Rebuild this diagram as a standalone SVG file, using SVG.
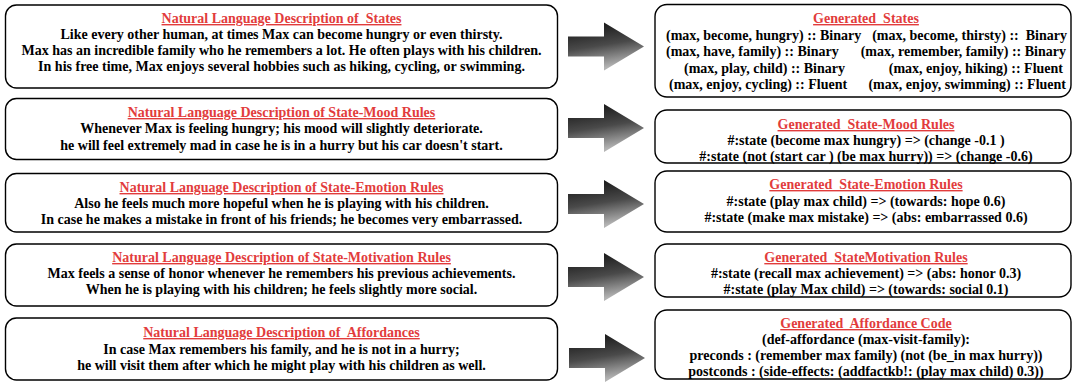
<svg xmlns="http://www.w3.org/2000/svg" width="1074" height="383" viewBox="0 0 1074 383">
<defs>
<style>
.box{fill:#fff;stroke:#000;stroke-width:1.4}
.t{font-family:"Liberation Serif","Times New Roman",serif;font-weight:bold;font-size:14px;fill:#000;text-anchor:middle}
.h{fill:#e23c3c;text-decoration:underline}
.s{text-anchor:start}
.e{text-anchor:end}
.arrow{fill:url(#ag)}
</style>
<linearGradient id="ag" x1="0" y1="0" x2="0.25" y2="1">
<stop offset="0" stop-color="#0e0e0e"/>
<stop offset="0.55" stop-color="#4a4a4a"/>
<stop offset="1" stop-color="#b4b4b4"/>
</linearGradient>
<path id="blk" class="arrow" d="M0,-10 H36 V-24 L76,0 L36,24 V10 H0 Z"/>
</defs>
<rect width="1074" height="383" fill="#fff"/>

<g id="connectors">
<use href="#blk" x="568" y="46.5"/>
<use href="#blk" x="568" y="128"/>
<use href="#blk" x="568" y="204"/>
<use href="#blk" x="568" y="277"/>
<use href="#blk" x="569" y="358"/>
</g>

<g id="nl-states">
<rect class="box" x="5.5" y="5" width="552" height="83" rx="11"/>
<text class="t h" x="281.5" y="23" xml:space="preserve">Natural Language Description of  States</text>
<text class="t" x="281.5" y="39">Like every other human, at times Max can become hungry or even thirsty.</text>
<text class="t" x="281.5" y="55">Max has an incredible family who he remembers a lot. He often plays with his children.</text>
<text class="t" x="281.5" y="71">In his free time, Max enjoys several hobbies such as hiking, cycling, or swimming.</text>
</g>

<g id="nl-mood">
<rect class="box" x="5.5" y="98.5" width="552" height="61" rx="11"/>
<text class="t h" x="281.5" y="117">Natural Language Description of State-Mood Rules</text>
<text class="t" x="281.5" y="133">Whenever Max is feeling hungry; his mood will slightly deteriorate.</text>
<text class="t" x="281.5" y="150">he will feel extremely mad in case he is in a hurry but his car doesn't start.</text>
</g>

<g id="nl-emotion">
<rect class="box" x="5.5" y="173.5" width="552" height="58.5" rx="11"/>
<text class="t h" x="281.5" y="192">Natural Language Description of State-Emotion Rules</text>
<text class="t" x="281.5" y="208">Also he feels much more hopeful when he is playing with his children.</text>
<text class="t" x="281.5" y="224">In case he makes a mistake in front of his friends; he becomes very embarrassed.</text>
</g>

<g id="nl-motivation">
<rect class="box" x="5.5" y="244" width="552" height="62" rx="11"/>
<text class="t h" x="281.5" y="262">Natural Language Description of State-Motivation Rules</text>
<text class="t" x="281.5" y="278">Max feels a sense of honor whenever he remembers his previous achievements.</text>
<text class="t" x="281.5" y="294">When he is playing with his children; he feels slightly more social.</text>
</g>

<g id="nl-affordances">
<rect class="box" x="5.5" y="318" width="552" height="62" rx="11"/>
<text class="t h" x="281.5" y="337" xml:space="preserve">Natural Language Description of  Affordances</text>
<text class="t" x="281.5" y="354">In case Max remembers his family, and he is not in a hurry;</text>
<text class="t" x="281.5" y="370">he will visit them after which he might play with his children as well.</text>
</g>

<g id="gen-states">
<rect class="box" x="655" y="4.5" width="416" height="92.5" rx="12"/>
<text class="t h" x="866" y="23" xml:space="preserve">Generated  States</text>
<text class="t s" x="666" y="39.5">(max, become, hungry) :: Binary</text>
<text class="t e" x="1067" y="39.5" xml:space="preserve">(max, become, thirsty) ::  Binary</text>
<text class="t s" x="666" y="56">(max, have, family) :: Binary</text>
<text class="t e" x="1066" y="56">(max, remember, family) :: Binary</text>
<text class="t s" x="684" y="72.5">(max, play, child) :: Binary</text>
<text class="t e" x="1063" y="72.5">(max, enjoy, hiking) :: Fluent</text>
<text class="t s" x="669" y="89">(max, enjoy, cycling) :: Fluent</text>
<text class="t e" x="1066" y="89">(max, enjoy, swimming) :: Fluent</text>
</g>

<g id="gen-mood">
<rect class="box" x="655" y="110" width="416" height="53" rx="12"/>
<text class="t h" x="866" y="129" xml:space="preserve">Generated  State-Mood Rules</text>
<text class="t" x="866" y="145">#:state (become max hungry) =&gt; (change -0.1 )</text>
<text class="t" x="866" y="161">#:state (not (start car ) (be max hurry)) =&gt; (change -0.6)</text>
</g>

<g id="gen-emotion">
<rect class="box" x="655" y="171" width="416" height="61" rx="12"/>
<text class="t h" x="866" y="189" xml:space="preserve">Generated  State-Emotion Rules</text>
<text class="t" x="866" y="206">#:state (play max child) =&gt; (towards: hope 0.6)</text>
<text class="t" x="866" y="222">#:state (make max mistake) =&gt; (abs: embarrassed 0.6)</text>
</g>

<g id="gen-motivation">
<rect class="box" x="655" y="244" width="416" height="53" rx="12"/>
<text class="t h" x="866" y="262" xml:space="preserve">Generated  StateMotivation Rules</text>
<text class="t" x="866" y="278">#:state (recall max achievement) =&gt; (abs: honor 0.3)</text>
<text class="t" x="866" y="294">#:state (play Max child) =&gt; (towards: social 0.1)</text>
</g>

<g id="gen-affordance">
<rect class="box" x="655" y="310" width="416" height="69" rx="12"/>
<text class="t h" x="866" y="328" xml:space="preserve">Generated  Affordance Code</text>
<text class="t" x="866" y="344">(def-affordance (max-visit-family):</text>
<text class="t" x="866" y="360">preconds : (remember max family) (not (be_in max hurry))</text>
<text class="t" x="866" y="376">postconds : (side-effects: (addfactkb!: (play max child) 0.3))</text>
</g>
</svg>
